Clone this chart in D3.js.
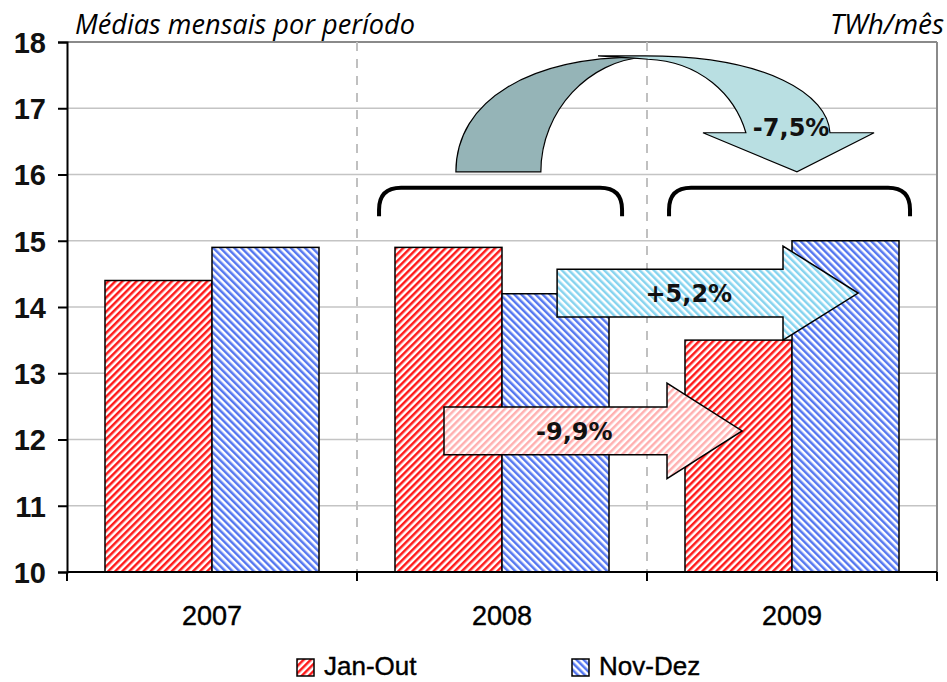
<!DOCTYPE html>
<html><head><meta charset="utf-8">
<script src="https://cdn.jsdelivr.net/npm/d3@7/dist/d3.min.js"></script>
<style>html,body{margin:0;padding:0;background:#fff;}svg{display:block;}</style>
</head><body><div id="chart"></div>
<script>
// ---- data ----
const categories = ["2007", "2008", "2009"];
const seriesNames = ["Jan-Out", "Nov-Dez"];
const janOut = [14.4, 14.9, 13.5];
const novDez = [14.9, 14.2, 15.0];
const yTicks = [10, 11, 12, 13, 14, 15, 16, 17, 18];
const titleText = "Médias mensais por período";
const unitText = "TWh/mês";
// annotation arrows: label, x start, head base, tip (category units), centre value, half body, half head
const arrowLabels = ["-9,9%", "+5,2%"];
const arrowX0 = [1.300, 1.690];
const arrowX1 = [2.069, 2.469];
const arrowX2 = [2.328, 2.728];
const arrowYc = [12.13, 14.21];
const arrowHalfBody = [0.36, 0.36];
const arrowHalfHead = [0.72, 0.71];
// brackets (category units / values)
const bracketX0 = [1.076, 2.076];
const bracketX1 = [1.914, 2.907];
const bracketTop = 15.80, bracketBottom = 15.37;
const curvedLabel = "-7,5%";

const W = 947, H = 682;
const mLeft = 67, mRight = 937, mTop = 42, mBottom = 572;

const svg = d3.select("#chart").append("svg").attr("width", W).attr("height", H);
const defs = svg.append("defs");
function stripes(id, color, angle, period) {
  const p = defs.append("pattern").attr("id", id).attr("patternUnits", "userSpaceOnUse")
    .attr("width", period).attr("height", period).attr("patternTransform", `rotate(${angle})`);
  p.append("rect").attr("width", period).attr("height", period).attr("fill", "#fff");
  p.append("rect").attr("width", period / 2).attr("height", period).attr("fill", color);
}
stripes("pRed", "#ff1a1a", 45, 5);
stripes("pBlue", "#5577f0", -45, 5);
stripes("pLightBlue", "#86d4ef", -45, 5);
stripes("pPink", "#ffb0b0", 45, 5);

const x = d3.scaleBand().domain(categories).range([mLeft, mRight]).paddingInner(0.262).paddingOuter(0.131);
const xs = d3.scaleBand().domain(seriesNames).range([0, x.bandwidth()]);
const y = d3.scaleLinear().domain([10, 18]).range([mBottom, mTop]);
const xu = d3.scaleLinear().domain([0, categories.length]).range([mLeft, mRight]);

// gridlines
svg.append("g").selectAll("line").data(yTicks.filter(t => t > 10 && t < 18)).join("line")
  .attr("x1", mLeft).attr("x2", mRight).attr("y1", d => y(d)).attr("y2", d => y(d))
  .attr("stroke", "#c4c4c4").attr("stroke-width", 1.5);
// frame top / right
svg.append("line").attr("x1", mLeft).attr("x2", mRight).attr("y1", y(18)).attr("y2", y(18)).attr("stroke", "#8a8a8a").attr("stroke-width", 2);
svg.append("line").attr("x1", mRight).attr("x2", mRight).attr("y1", y(18)).attr("y2", y(10)).attr("stroke", "#8a8a8a").attr("stroke-width", 2);
// dashed category separators
svg.append("g").selectAll("line").data([1, 2]).join("line")
  .attr("x1", d => xu(d)).attr("x2", d => xu(d)).attr("y1", y(18)).attr("y2", y(10))
  .attr("stroke", "#c0c0c0").attr("stroke-width", 2).attr("stroke-dasharray", "9,8");

// bars
const rows = categories.map((c, i) => ({ c, vals: [janOut[i], novDez[i]] }));
const g = svg.append("g").selectAll("g").data(rows).join("g").attr("transform", d => `translate(${x(d.c)},0)`);
g.selectAll("rect").data(d => d.vals.map((v, j) => ({ v, s: seriesNames[j] }))).join("rect")
  .attr("x", d => xs(d.s)).attr("width", xs.bandwidth())
  .attr("y", d => y(d.v)).attr("height", d => y(10) - y(d.v))
  .attr("fill", d => d.s === seriesNames[0] ? "url(#pRed)" : "url(#pBlue)")
  .attr("stroke", "#000").attr("stroke-width", 1.5);

// axes
const yAxis = svg.append("g").attr("transform", `translate(${mLeft},0)`)
  .call(d3.axisLeft(y).tickValues(yTicks).tickSize(9).tickFormat(d3.format("d")));
yAxis.select(".domain").attr("stroke", "#000").attr("stroke-width", 2);
yAxis.selectAll(".tick line").attr("stroke", "#000").attr("stroke-width", 2);
yAxis.selectAll(".tick text").attr("x", -21).attr("dy", "0.36em")
  .attr("font-family", "Liberation Sans, Arial, sans-serif").attr("font-weight", "bold").attr("font-size", 29).attr("fill", "#111");

const xAxisG = svg.append("g").attr("transform", `translate(0,${mBottom})`);
xAxisG.append("line").attr("x1", mLeft).attr("x2", mRight).attr("stroke", "#000").attr("stroke-width", 2);
xAxisG.selectAll("line.t").data([0, 1, 2, 3]).join("line").attr("class", "t")
  .attr("x1", d => xu(d)).attr("x2", d => xu(d)).attr("y1", 0).attr("y2", 9).attr("stroke", "#000").attr("stroke-width", 2);
xAxisG.selectAll("text").data(categories).join("text")
  .attr("x", d => x(d) + x.bandwidth() / 2).attr("y", 53).attr("text-anchor", "middle")
  .attr("font-family", "Liberation Sans, Arial, sans-serif").attr("font-size", 27).attr("fill", "#000")
  .attr("stroke", "#000").attr("stroke-width", 0.4).text(d => d);

// titles
svg.append("text").attr("x", 75).attr("y", 34).attr("font-family", "Open Sans, sans-serif").attr("font-style", "italic")
  .attr("font-size", 27).attr("textLength", 340).attr("lengthAdjust", "spacingAndGlyphs").attr("fill", "#000").text(titleText);
svg.append("text").attr("x", 944).attr("y", 34).attr("text-anchor", "end").attr("font-family", "Open Sans, sans-serif").attr("font-style", "italic")
  .attr("font-size", 27).attr("textLength", 114).attr("lengthAdjust", "spacingAndGlyphs").attr("fill", "#000").text(unitText);

// brackets
const r = 22;
bracketX0.forEach((u0, i) => {
  const x0 = xu(u0), x1 = xu(bracketX1[i]), yt = y(bracketTop), yb = y(bracketBottom);
  svg.append("path").attr("d", `M${x0},${yb} L${x0},${yt + r} Q${x0},${yt} ${x0 + r},${yt} L${x1 - r},${yt} Q${x1},${yt} ${x1},${yt + r} L${x1},${yb}`)
    .attr("fill", "none").attr("stroke", "#000").attr("stroke-width", 4);
});

// curved arrow
const P = (u, v) => `${xu(u)},${y(v)}`;
svg.append("path").attr("d",
  `M${P(1.341,16.04)} C${P(1.341,17.12)} ${P(1.597,17.79)} ${P(1.993,17.77)} C${P(1.803,17.73)} ${P(1.634,16.97)} ${P(1.634,16.04)} Z`)
  .attr("fill", "#95b4b7").attr("stroke", "#000").attr("stroke-width", 1.2);
svg.append("path").attr("d",
  `M${P(1.831,17.79)} L${P(1.993,17.79)} C${P(2.420,17.79)} ${P(2.624,17.20)} ${P(2.631,16.63)} L${P(2.783,16.63)} L${P(2.517,16.04)} L${P(2.193,16.63)} L${P(2.341,16.63)} C${P(2.303,17.20)} ${P(2.183,17.71)} ${P(2.003,17.74)} Q${P(1.907,17.77)} ${P(1.831,17.79)} Z`)
  .attr("fill", "#b9dfe2").attr("stroke", "#000").attr("stroke-width", 1.2);
svg.append("text").attr("x", xu(2.497)).attr("y", y(16.63)).attr("dy", "0.12em").attr("text-anchor", "middle")
  .attr("font-family", "DejaVu Sans, sans-serif").attr("font-weight", "bold").attr("font-size", 24).attr("fill", "#111").text(curvedLabel);

// straight arrows
arrowLabels.forEach((lab, i) => {
  const x0 = xu(arrowX0[i]), x1 = xu(arrowX1[i]), x2 = xu(arrowX2[i]);
  const yc = arrowYc[i], hb = arrowHalfBody[i], hh = arrowHalfHead[i];
  const pts = [[x0, y(yc + hb)], [x1, y(yc + hb)], [x1, y(yc + hh)], [x2, y(yc)], [x1, y(yc - hh)], [x1, y(yc - hb)], [x0, y(yc - hb)]];
  svg.append("path").attr("d", "M" + pts.map(p => p.join(",")).join("L") + "Z")
    .attr("fill", i === 0 ? "url(#pPink)" : "url(#pLightBlue)").attr("stroke", "#000").attr("stroke-width", 1.5);
  svg.append("text").attr("x", (x0 + (x1 + x2) / 2) / 2).attr("y", y(yc)).attr("dy", "0.36em").attr("text-anchor", "middle")
    .attr("font-family", "DejaVu Sans, sans-serif").attr("font-weight", "bold").attr("font-size", 24).attr("fill", "#111").text(lab);
});

// legend
const legX = [297, 572];
seriesNames.forEach((s, i) => {
  svg.append("rect").attr("x", legX[i]).attr("y", 659).attr("width", 17).attr("height", 17)
    .attr("fill", i === 0 ? "url(#pRed)" : "url(#pBlue)").attr("stroke", "#000").attr("stroke-width", 1.5);
  svg.append("text").attr("x", legX[i] + 27).attr("y", 675).attr("font-family", "Liberation Sans, Arial, sans-serif")
    .attr("font-size", 26).attr("fill", "#000").attr("stroke", "#000").attr("stroke-width", 0.4).text(s);
});
</script></body></html>
